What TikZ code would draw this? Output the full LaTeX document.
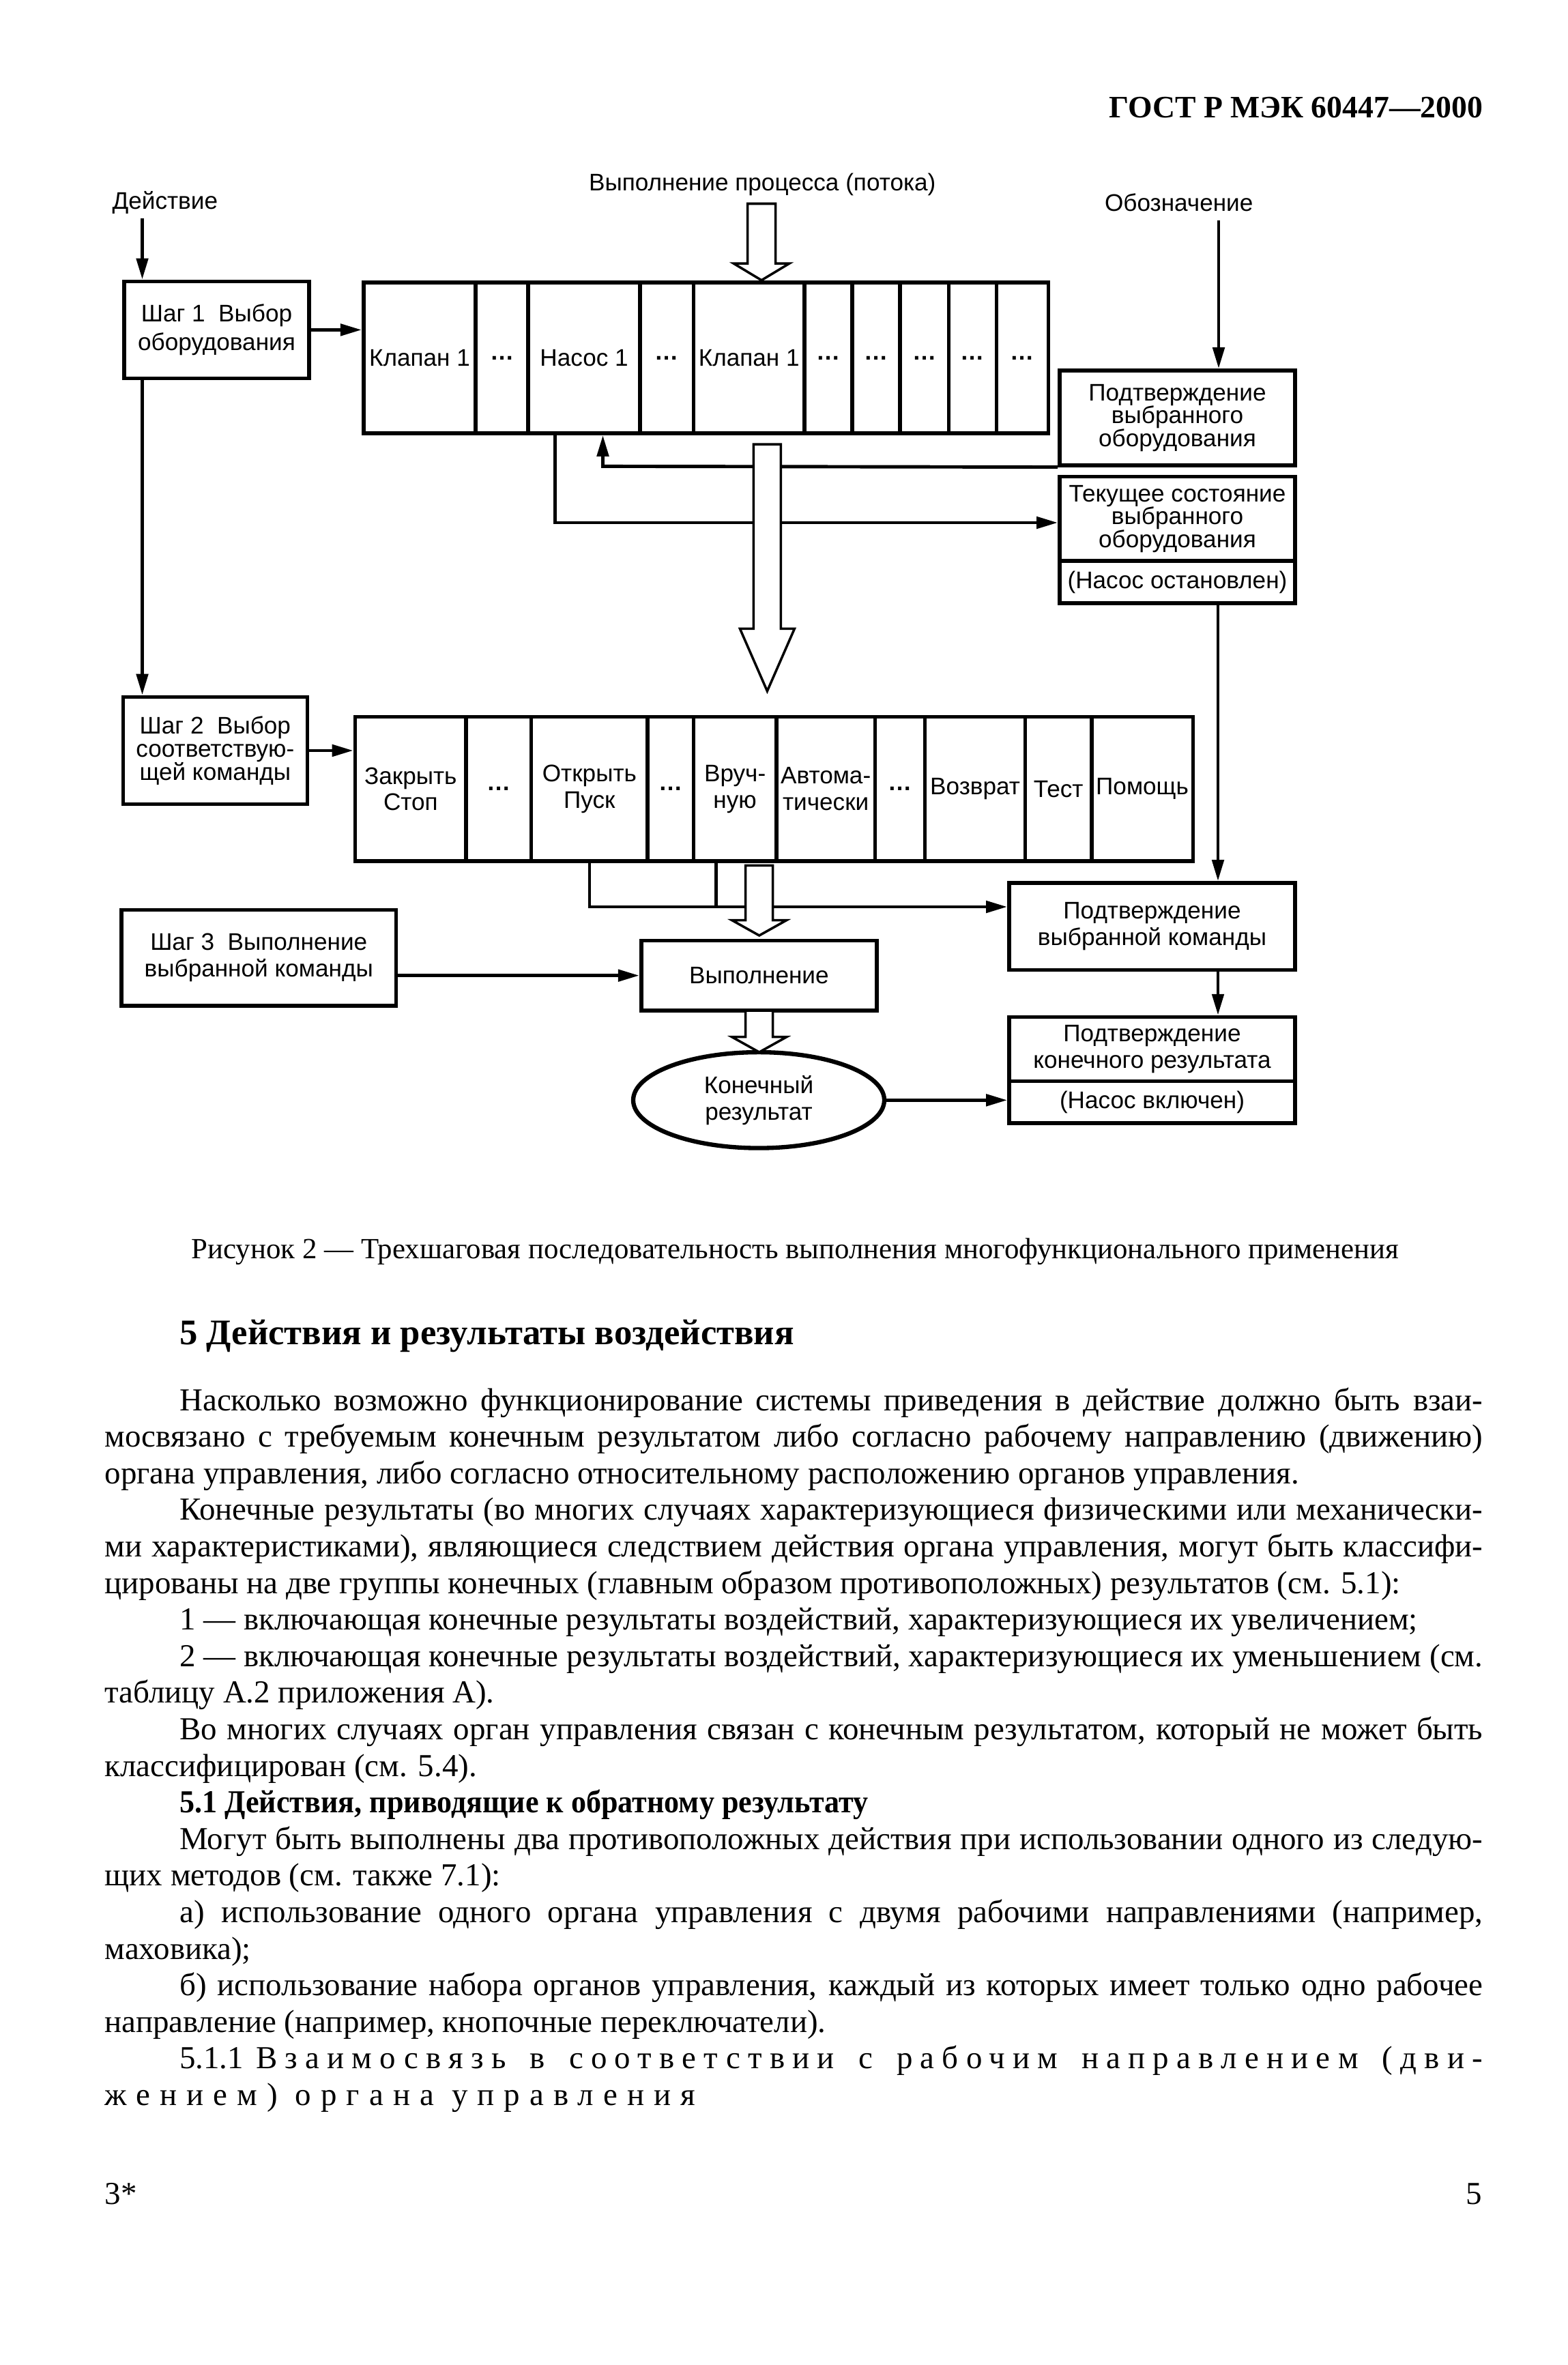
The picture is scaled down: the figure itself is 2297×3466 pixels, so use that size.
\documentclass[tikz,border=0pt]{standalone}
\usepackage{fontspec}
\usepackage{graphicx}
\setmainfont{Liberation Serif}
\newfontfamily\dsans{Liberation Sans}
\usetikzlibrary{arrows.meta,shapes.geometric}
\newcommand\hollowarrow[5]{\draw[blockarr] ({#1-#5},#2) -- ({#1+#5},#2) -- ({#1+#5},#3) -- ({#1+2*#5},#3) -- (#1,#4) -- ({#1-2*#5},#3) -- ({#1-#5},#3) -- cycle;}
\begin{document}
\begin{tikzpicture}[x=0.1mm,y=-0.1mm,
  box/.style={draw, line width=1.6pt, inner sep=0pt, align=center, fill=white},
  sfont/.style={font=\dsans\fontsize{10}{#1}\selectfont},
  lbl/.style={inner sep=0pt, font=\dsans\fontsize{10}{11}\selectfont},
  conn/.style={line width=1.4pt, -{Triangle[length=3.1mm,width=1.7mm]}},
  plain/.style={line width=1.4pt},
  blockarr/.style={draw, fill=white, line width=1pt, line join=miter},
  body/.style={anchor=base west, inner sep=0pt, font=\fontsize{13.35}{16}\selectfont},
  dots/.style={font=\dsans\bfseries\fontsize{10}{11}\selectfont}]
\useasboundingbox (0,0) rectangle (2297,3466);

% header
\node[anchor=base east, inner sep=0pt, font=\bfseries\fontsize{13}{15}\selectfont] (hdr) at (2174,172.9) {ГОСТ Р МЭК 60447—2000};

% labels
\node[lbl] (lact) at (241.8,297) {Действие};
\node[lbl] (lproc) at (1117.25,270) {Выполнение процесса (потока)};
\node[lbl] (ldes) at (1727.75,297) {Обозначение};
\coordinate (actTop) at (208.5,320);
\coordinate (desTop) at (1786,322.6);

% step boxes
\node[box, sfont=11.9, minimum width=27.1mm, minimum height=14.2mm] (step1) at (317.5,483.4) {Шаг 1~~Выбор\\оборудования};
\node[box, sfont=9.6, minimum width=27.0mm, minimum height=15.7mm] (step2) at (315.35,1099.95) {Шаг 2~~Выбор\\соответствую-\\щей команды};
\node[box, sfont=11, minimum width=40.25mm, minimum height=14.03mm] (step3) at (379.25,1403.55) {Шаг 3~~Выполнение\\выбранной команды};

% table 1
\begin{scope}[every node/.style={box, sfont=11, minimum height=22.1mm}]
\node[minimum width=16.44mm] (c1) at (615.0,524.5) {Клапан 1};
\node[minimum width=7.69mm, dots] (c2) at (735.65,524.5) {…};
\node[minimum width=16.39mm] (c3) at (856.05,524.5) {Насос 1};
\node[minimum width=7.86mm, dots] (c4) at (977.3,524.5) {…};
\node[minimum width=16.22mm] (c5) at (1097.7,524.5) {Клапан 1};
\node[minimum width=7.02mm, dots] (c6) at (1213.9,524.5) {…};
\node[minimum width=7.00mm, dots] (c7) at (1284.0,524.5) {…};
\node[minimum width=7.14mm, dots] (c8) at (1354.7,524.5) {…};
\node[minimum width=7.01mm, dots] (c9) at (1425.45,524.5) {…};
\node[minimum width=7.58mm, dots] (c10) at (1498.4,524.5) {…};
\end{scope}

% table 2
\begin{scope}[every node/.style={box, sfont=11, minimum height=21.15mm}]
\node[minimum width=16.27mm] (d1) at (601.85,1156.25) {Закрыть\\Стоп};
\node[minimum width=9.54mm, dots] (d2) at (730.9,1156.25) {…};
\node[minimum width=17.06mm] (d3) at (863.9,1156.25) {Открыть\\Пуск};
\node[minimum width=6.73mm, dots] (d4) at (982.85,1156.25) {…};
\node[minimum width=12.13mm] (d5) at (1077.15,1156.25) {Вруч-\\ную};
\node[minimum width=14.48mm] (d6) at (1210.2,1156.25) {Автома-\\тически};
\node[minimum width=7.30mm, dots] (d7) at (1319.1,1156.25) {…};
\node[minimum width=14.70mm] (d8) at (1429.1,1156.25) {Возврат};
\node[minimum width=9.71mm] (d9) at (1551.15,1156.25) {Тест};
\node[minimum width=14.87mm] (d10) at (1674.05,1156.25) {Помощь};
\end{scope}

% right column boxes
\node[box, sfont=9.6, minimum width=34.5mm, minimum height=13.87mm] (conf1) at (1725.5,612.35) {Подтверждение\\выбранного\\оборудования};
\node[box, sfont=9.6, minimum width=34.5mm, minimum height=12.34mm] (stateU) at (1725.5,760.3) {Текущее состояние\\выбранного\\оборудования};
\node[box, sfont=11, minimum width=34.5mm, minimum height=6.18mm] (stateL) at (1725.5,852.9) {(Насос остановлен)};
\node[box, sfont=11, minimum width=41.9mm, minimum height=12.75mm] (conf2) at (1688.5,1357.75) {Подтверждение\\выбранной команды};
\node[box, sfont=11, minimum width=41.9mm, minimum height=9.37mm] (resU) at (1688.5,1537.45) {Подтверждение\\конечного результата};
\node[box, sfont=11, minimum width=41.9mm, minimum height=6.17mm] (resL) at (1688.5,1615.15) {(Насос включен)};

% execution and result
\node[box, sfont=11, minimum width=34.53mm, minimum height=10.27mm] (exec) at (1112.35,1429.65) {Выполнение};
\node[ellipse, draw, line width=1.8pt, inner sep=0pt, align=center, sfont=11, minimum width=36.8mm, minimum height=14.05mm] (ell) at (1112,1612.3) {Конечный\\результат};

% connectors
\draw[conn] (actTop) -- (actTop |- step1.north);
\draw[conn] (step1.east) -- (step1.east -| c1.west);
\draw[conn] (step1.south -| actTop) -- (step2.north -| actTop);
\draw[conn] (step2.east) -- (step2.east -| d1.west);
\draw[conn] (desTop) -- (desTop |- conf1.north);
\coordinate (retx) at (883.5,683.4);
\draw[conn] (conf1.south west) -- (retx) -- (retx |- c3.south);
\coordinate (stx) at (813.4,766);
\draw[conn] (stx |- c3.south) -- (stx) -- (stx -| stateU.west);
\coordinate (rx) at (1785,0);
\draw[conn] (stateL.south -| rx) -- (conf2.north -| rx);
\draw[conn] (conf2.south -| rx) -- (resU.north -| rx);
\coordinate (t2a) at (864,1329);
\coordinate (t2b) at (1049.2,1329);
\draw[conn] (t2a |- d3.south) -- (t2a) -- (t2a -| conf2.west);
\draw[plain] (t2b |- d5.south) -- (t2b);
\draw[conn] (step3.east |- exec.west) -- (exec.west);
\draw[conn] (ell.east) -- (ell.east -| resL.west);

% block arrows
\hollowarrow{1116}{298.5}{386}{410.7}{20.5}
\hollowarrow{1124.4}{651}{921.4}{1012.8}{20}
\hollowarrow{1112.7}{1268.3}{1348.6}{1371}{20}
\hollowarrow{1112.7}{1481}{1519.7}{1542}{20}

% caption and heading
\node[anchor=base west, inner sep=0pt, font=\fontsize{12.2}{14}\selectfont] (cap) at (280,1844.4) {Рисунок 2 — Трехшаговая последовательность выполнения многофункционального применения};
\node[anchor=base west, inner sep=0pt, font=\bfseries\fontsize{15}{17}\selectfont] (head) at (262.6,1970) {5 Действия и результаты воздействия};

% body
\node[body] (b0) at (262.6,2067) {\makebox[191.0mm][s]{Насколько возможно функционирование системы приведения в действие должно быть взаи-}};
\node[body] (b1) at (153,2120.6) {\makebox[201.96mm][s]{мосвязано с требуемым конечным результатом либо согласно рабочему направлению (движению)}};
\node[body] (b2) at (153,2174.2) {органа управления, либо согласно относительному расположению органов управления.};
\node[body] (b3) at (262.6,2227.8) {\makebox[191.0mm][s]{Конечные результаты (во многих случаях характеризующиеся физическими или механически-}};
\node[body] (b4) at (153,2281.4) {\makebox[201.96mm][s]{ми характеристиками), являющиеся следствием действия органа управления, могут быть классифи-}};
\node[body] (b5) at (153,2335.0) {цированы на две группы конечных (главным образом противоположных) результатов (см. 5.1):};
\node[body] (b6) at (262.6,2388.6) {1 — включающая конечные результаты воздействий, характеризующиеся их увеличением;};
\node[body] (b7) at (262.6,2442.2) {\makebox[191.0mm][s]{2 — включающая конечные результаты воздействий, характеризующиеся их уменьшением (см.}};
\node[body] (b8) at (153,2495.8) {таблицу А.2 приложения А).};
\node[body] (b9) at (262.6,2549.4) {\makebox[191.0mm][s]{Во многих случаях орган управления связан с конечным результатом, который не может быть}};
\node[body] (b10) at (153,2603.0) {классифицирован (см. 5.4).};
\node[body, font=\bfseries\fontsize{13.35}{16}\selectfont] (b11) at (262.6,2656.6) {\scalebox{0.94}[1]{5.1 Действия, приводящие к обратному результату}};
\node[body] (b12) at (262.6,2710.2) {\makebox[191.0mm][s]{Могут быть выполнены два противоположных действия при использовании одного из следую-}};
\node[body] (b13) at (153,2763.8) {щих методов (см. также 7.1):};
\node[body] (b14) at (262.6,2817.4) {\makebox[191.0mm][s]{а) использование одного органа управления с двумя рабочими направлениями (например,}};
\node[body] (b15) at (153,2871.0) {маховика);};
\node[body] (b16) at (262.6,2924.6) {\makebox[191.0mm][s]{б) использование набора органов управления, каждый из которых имеет только одно рабочее}};
\node[body] (b17) at (153,2978.2) {направление (например, кнопочные переключатели).};
\node[body] (b18) at (262.6,3031.8) {\makebox[191.0mm][s]{5.1.1 {\addfontfeature{LetterSpace=24}Взаимосвязь в соответствии с рабочим направлением (дви-}}};
\node[body] (b19) at (153,3085.4) {{\addfontfeature{LetterSpace=30}жением) органа управления}};

% footer
\node[body] (f1) at (153,3230) {3*};
\node[anchor=base east, inner sep=0pt, font=\fontsize{13.35}{16}\selectfont] (f2) at (2172.6,3230) {5};
\end{tikzpicture}
\end{document}
